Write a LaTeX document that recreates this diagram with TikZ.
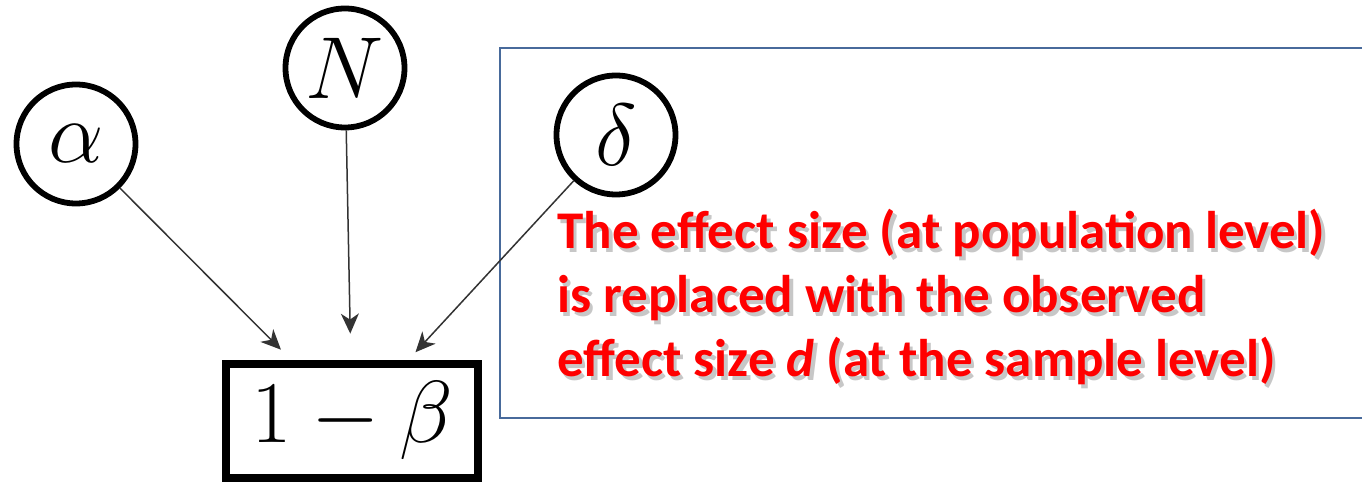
\RequirePackage{fix-cm}
\documentclass[tikz,border=0pt]{standalone}
\usepackage{amsmath, amssymb}
\usepackage{fontspec}
\newfontfamily\calibri{Carlito}
\usetikzlibrary{arrows.meta, positioning}

\definecolor{framblue}{RGB}{72,106,155}
\definecolor{notered}{RGB}{255,0,0}

\newcommand{\bignote}{The effect size (at population level)\\
is replaced with the observed\\
effect size \textit{d} (at the sample level)}

\begin{document}
\begin{tikzpicture}[x=0.5pt, y=-0.5pt, >={Stealth[length=10pt, width=9pt, inset=3pt]},
    var/.style={draw, circle, line width=2.9pt, minimum size=59.5pt, inner sep=0pt,
                font=\fontsize{44}{48}\selectfont},
    result/.style={draw, rectangle, line width=4.4pt, minimum width=126pt, minimum height=57pt,
                inner sep=0pt, font=\fontsize{44}{48}\selectfont},
    link/.style={->, line width=0.75pt, black!80},
    note/.style={align=left, anchor=base west, inner sep=0pt,
                font=\calibri\bfseries\fontsize{26.5}{32}\selectfont}]
                \useasboundingbox (0,0) rectangle (1362,485);
                \fill[white] (0,0) rectangle (1362,485);

                \draw[framblue, line width=1.3pt] (500,48) rectangle (1380,418);

                \node[var] (alpha) at (76,144) {$\alpha$};
                \node[var] (N) at (345,68) {$N$};
                \node[var] (delta) at (616,135) {$\delta$};
                \node[result] (power) at (352,421) {$1-\beta$};

                \draw[link, shorten >=7pt] (alpha) -- (power);
                \draw[link, shorten >=13pt] (N) -- (power);
                \draw[link, shorten >=5pt] (delta) -- (power);

                \node[note, black, opacity=0.22] (noteshadow) at (560.5,381) {\bignote};
                \node[note, notered] (note) at (557,377) {\bignote};
            \end{tikzpicture}
\end{document}
